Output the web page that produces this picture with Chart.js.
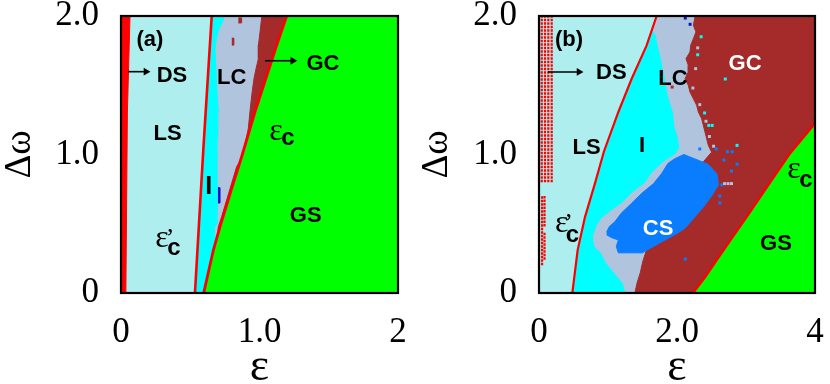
<!DOCTYPE html>
<html><head><meta charset="utf-8">
<script src="https://cdn.jsdelivr.net/npm/chart.js@4.4.1/dist/chart.umd.min.js"></script>
<style>
html,body{margin:0;padding:0;background:#fff;}
#wrap{position:relative;width:830px;height:384px;}
.pane{position:absolute;top:0;width:415px;height:384px;}
</style></head><body>
<div id="wrap">
<div class="pane" style="left:0"><canvas id="ca" width="415" height="384"></canvas></div>
<div class="pane" style="left:415px"><canvas id="cb" width="415" height="384"></canvas></div>
</div>
<script>
// ---------- tick values / labels ----------
const yTicks = [0, 1, 2];
const yTickLabels = ['0', '1.0', '2.0'];
const xTicksA = [0, 1, 2];
const xTickLabelsA = ['0', '1.0', '2'];
const xTicksB = [0, 2, 4];
const xTickLabelsB = ['0', '2.0', '4'];

// ---------- panel (a) region boundaries (epsilon, delta-omega) ----------
const aAll = [[0,0],[2,0],[2,2],[0,2]];
const aRedStrip = [[0,0],[0.035,0],[0.046,1.3],[0.065,2],[0,2]];
const aEpsPrime = [[0.534,0],[0.594,1.03],[0.655,2]];
const aEpsC = [[0.597,0],[0.667,0.31],[0.715,0.479],[0.81,0.79],[0.87,0.98],[0.967,1.307],[1.124,1.788],[1.196,2]];
const aLC = [[0.751,2],[0.751,1.98],[0.727,1.933],[0.71,1.896],[0.696,1.836],[0.686,1.764],[0.691,1.668],[0.696,1.547],[0.703,1.403],[0.71,1.307],[0.708,1.186],[0.70,1.066],[0.703,0.982],[0.703,0.503],[0.686,0.48],[0.686,0.359],[0.95,0.359],[1.5,2]];
const aGC = [[1.016,2],[1.016,1.993],[1.004,1.885],[0.992,1.788],[0.992,1.692],[0.975,1.62],[0.96,1.547],[0.944,1.427],[0.931,1.307],[0.919,1.186],[0.895,1.066],[0.879,0.982],[0.835,0.912],[0.799,0.792],[0.763,0.672],[0.727,0.551],[0.703,0.479],[0.70,0.45],[1.0,0.45],[1.6,2]];
const aGCspeck1 = [[0.847,1.95],[0.871,1.95],[0.871,1.986],[0.847,1.986]];
const aGCspeck2 = [[0.80,1.79],[0.815,1.79],[0.815,1.84],[0.80,1.84]];
const aBlueMark = [[0.70,0.65],[0.715,0.65],[0.715,0.76],[0.70,0.76]];
const aArrowDS = [[0.05,1.598],[0.18,1.598]];
const aArrowGC = [[1.04,1.677],[1.24,1.677]];

// ---------- panel (b) region boundaries ----------
const bAll = [[0,0],[4,0],[4,2],[0,2]];
const bEpsPrime = [[0.483,0],[0.56,0.31],[0.667,0.55],[0.81,0.79],[0.94,1.02],[1.15,1.307],[1.343,1.547],[1.56,1.788],[1.705,2]];
const bEpsC = [[2.23,0],[2.4,0.11],[2.575,0.238],[2.8,0.4],[3.01,0.55],[3.33,0.784],[3.64,1.01],[4,1.225]];
const bLC = [[1.705,2],[1.637,1.9],[1.70,1.86],[1.72,1.80],[1.76,1.72],[1.80,1.62],[1.83,1.55],[1.86,1.45],[1.90,1.38],[1.95,1.30],[1.97,1.20],[2.02,1.12],[2.04,1.05],[1.98,1.0],[1.88,0.97],[1.78,0.936],[1.633,0.864],[1.536,0.792],[1.343,0.72],[1.2,0.647],[1.03,0.587],[0.908,0.539],[0.836,0.48],[0.787,0.407],[0.81,0.335],[0.908,0.287],[0.98,0.215],[1.1,0.142],[1.22,0.07],[1.26,0],[4,0],[4,2]];
const bGC = [[2.24,2],[2.261,1.993],[2.237,1.933],[2.275,1.885],[2.237,1.836],[2.198,1.788],[2.188,1.74],[2.13,1.692],[2.164,1.644],[2.164,1.596],[2.116,1.547],[2.164,1.499],[2.188,1.451],[2.237,1.403],[2.285,1.355],[2.309,1.307],[2.357,1.259],[2.382,1.21],[2.406,1.162],[2.43,1.114],[2.454,1.066],[2.502,1.017],[2.3,0.9],[2.0,0.75],[1.7,0.5],[1.55,0.3],[1.50,0.22],[1.47,0.15],[1.42,0.07],[1.39,0],[4,0],[4,2]];
const bCS = [[0.98,0.44],[1.02,0.48],[1.1,0.515],[1.19,0.575],[1.34,0.647],[1.49,0.72],[1.66,0.79],[1.78,0.864],[1.87,0.936],[1.97,0.97],[2.1,1.0],[2.25,0.97],[2.45,0.93],[2.58,0.86],[2.6,0.78],[2.5,0.70],[2.38,0.62],[2.26,0.55],[2.12,0.47],[2.0,0.43],[1.78,0.37],[1.6,0.32],[1.5,0.29],[1.15,0.29],[1.12,0.335],[1.15,0.383],[1.05,0.40],[0.98,0.42]];
const bBlueSpecks = [[2.87,0.93],[2.79,0.88],[2.65,0.78],[2.62,0.65],[2.12,0.245],[2.33,1.04],[2.57,1.04],[2.73,1.02],[2.80,1.02],[2.68,0.96],[2.62,0.70]];
const bDarkBlueSpecks = [[2.12,1.985],[2.19,1.94]];
const bCyanSpecks = [[2.35,1.85],[2.70,1.545],[2.46,1.21],[2.51,1.21],[2.87,1.066],[2.30,1.72],[2.40,1.30]];
const bLCSpecks = [[2.69,0.79],[2.74,0.79],[2.79,0.79],[2.30,1.77],[2.27,1.62],[2.23,1.48],[2.33,1.36],[2.42,1.24],[2.47,1.13],[2.53,1.06]];
const bBrownSpecks = [[1.93,1.487]];
const bDotCol1 = [[0.04,0.8],[0.04,2]];
const bDotCol2 = [[0.087,0.8],[0.087,2]];
const bDotCol3 = [[0.135,0.8],[0.135,2]];
const bDotCol4 = [[0.184,0.8],[0.184,2]];
const bDotLow1 = [[0.045,0.2],[0.045,0.7]];
const bDotLow2 = [[0.08,0.48],[0.08,0.7]];
const bDotLow3 = [[0.08,0.24],[0.08,0.44]];
const bArrowDS = [[0.13,1.596],[0.58,1.596]];

// ---------- colours ----------
const C_LS = '#afeeee', C_I = '#00ffff', C_LC = '#b0c4de', C_GC = '#a52a2a',
      C_GS = '#00ff00', C_CS = '#0a7dff', C_RED = '#ff0000';

const P = a => a.map(([x, y]) => ({x, y}));
function poly(pts, color){
  return {data:P(pts), fill:'shape', backgroundColor:color, borderColor:color, borderWidth:1, pointRadius:0, tension:0};
}
function curve(pts, color, w){
  return {data:P(pts), fill:false, borderColor:color, borderWidth:w, pointRadius:0, tension:0};
}
function dotted(pts){
  return {data:P(pts), fill:false, borderColor:C_RED, borderWidth:2.2, borderDash:[2.5,1], pointRadius:0, tension:0};
}
function specks(pts, color){
  return {data:P(pts), showLine:false, pointStyle:'rect', pointRadius:2.1, pointBackgroundColor:color, pointBorderWidth:0, pointBorderColor:color};
}
function arrow(pts){
  return {data:P(pts), fill:false, borderColor:'#000', borderWidth:1.6, tension:0,
    pointRadius:[0,4.5], pointStyle:'triangle', pointRotation:90, pointBackgroundColor:'#000', pointBorderWidth:0};
}

const SANS = '"Liberation Sans", Arial, sans-serif';
const SERIF = '"Liberation Serif", "Times New Roman", serif';
const B22 = 'bold 22px ' + SANS;
const EPS = '32px ' + SERIF;
const SUBC = 'bold 24px ' + SANS;
const PRIME = '26px ' + SERIF;

const labelsA = [
  {t:'(a)', x:0.209, y:1.783, f:B22},
  {t:'DS', x:0.368, y:1.526, f:B22},
  {t:'LS', x:0.336, y:1.105, f:B22},
  {t:'LC', x:0.799, y:1.511, f:B22},
  {t:'GC', x:1.458, y:1.610, f:B22},
  {t:'GS', x:1.334, y:0.515, f:B22},
  {t:'I',  x:0.633, y:0.715, f:'bold 25px ' + SANS},
  {t:'ε', x:1.119, y:1.105, f:EPS},
  {t:'c', x:1.206, y:1.069, f:SUBC},
  {t:'ε', x:0.296, y:0.332, f:EPS},
  {t:'’', x:0.354, y:0.339, f:PRIME},
  {t:'c', x:0.383, y:0.274, f:SUBC}
];
const labelsB = [
  {t:'(b)', x:0.435, y:1.783, f:B22},
  {t:'DS', x:1.048, y:1.547, f:B22},
  {t:'LS', x:0.691, y:1.006, f:B22},
  {t:'I',  x:1.493, y:1.02, f:B22},
  {t:'LC', x:1.942, y:1.502, f:B22},
  {t:'GC', x:2.986, y:1.608, f:B22, c:'#fff'},
  {t:'GS', x:3.435, y:0.31, f:B22},
  {t:'CS', x:1.725, y:0.419, f:B22, c:'#fff'},
  {t:'ε', x:3.696, y:0.83, f:EPS},
  {t:'c', x:3.87, y:0.767, f:SUBC},
  {t:'ε', x:0.329, y:0.443, f:EPS},
  {t:'’', x:0.43, y:0.45, f:PRIME},
  {t:'c', x:0.486, y:0.37, f:SUBC}
];

function textPlugin(items){
  return {id:'txt', afterDatasetsDraw(chart){
    const ctx = chart.ctx, xs = chart.scales.x, ys = chart.scales.y;
    ctx.save(); ctx.textAlign = 'center'; ctx.textBaseline = 'alphabetic';
    for (const it of items){
      ctx.font = it.f; ctx.fillStyle = it.c || '#000';
      ctx.fillText(it.t, xs.getPixelForValue(it.x), ys.getPixelForValue(it.y));
    }
    ctx.restore();
  }};
}
const framePlugin = {id:'frame', afterDraw(chart){
  const {ctx, chartArea:a} = chart;
  ctx.save(); ctx.strokeStyle = '#000'; ctx.lineWidth = 2.2;
  ctx.strokeRect(a.left, a.top, a.right - a.left, a.bottom - a.top);
  ctx.restore();
}};

function makeChart(id, layers, xmax, xt, xl, yAxisW, rightPad, yTitlePad, labels){
  const n = layers.length;
  layers.forEach((d, i) => { d.order = n - i; });
  const zeroPad = s => { s.paddingLeft = s.paddingRight = s.paddingTop = s.paddingBottom = 0; };
  return new Chart(document.getElementById(id), {
    type:'line',
    data:{datasets:layers},
    options:{
      responsive:false, animation:false, devicePixelRatio:1,
      layout:{padding:{left:0, right:rightPad, top:16, bottom:0}},
      plugins:{legend:{display:false}, tooltip:{enabled:false}},
      scales:{
        x:{type:'linear', min:0, max:xmax,
          grid:{display:false, drawTicks:false}, border:{display:false},
          afterBuildTicks: s => { s.ticks = xt.map(v => ({value:v})); },
          ticks:{padding:19, color:'#000', maxRotation:0, autoSkip:false,
            font:{family:SERIF, size:35},
            callback:(v, i) => xl[i]},
          title:{display:true, text:'ε', color:'#000', padding:{top:0, bottom:-5},
            font:{family:SERIF, size:46, lineHeight:0.9}},
          afterFit: s => { s.height = 91; zeroPad(s); }},
        y:{type:'linear', min:0, max:2,
          grid:{display:false, drawTicks:false}, border:{display:false},
          afterBuildTicks: s => { s.ticks = yTicks.map(v => ({value:v})); },
          ticks:{padding:22, color:'#000',
            font:{family:SERIF, size:35},
            callback:(v, i) => yTickLabels[i]},
          title:{display:true, text:'Δω', color:'#000', padding:{top:yTitlePad, bottom:0},
            font:{family:SERIF, size:37, lineHeight:1.1}},
          afterFit: s => { s.width = yAxisW; zeroPad(s); }}
      }
    },
    plugins:[textPlugin(labels), framePlugin]
  });
}

// bottom-to-top layer order
makeChart('ca', [
  poly(aAll, C_LS),
  poly(aRedStrip, C_RED),
  poly(aEpsPrime.concat([[2,2],[2,0]]), C_I),
  poly(aLC, C_LC),
  poly(aGC, C_GC),
  poly(aGCspeck1, C_GC),
  poly(aGCspeck2, C_GC),
  poly(aBlueMark, '#1010d0'),
  poly(aEpsC.concat([[2,2],[2,0]]), C_GS),
  curve(aEpsPrime, C_RED, 2.6),
  curve(aEpsC, C_RED, 2.8),
  arrow(aArrowDS),
  arrow(aArrowGC)
], 2, xTicksA, xTickLabelsA, 121, 17, 0, labelsA);

makeChart('cb', [
  poly(bAll, C_LS),
  poly(bEpsPrime.concat([[4,2],[4,0]]), C_I),
  poly(bLC, C_LC),
  poly(bGC, C_GC),
  poly(bCS, C_CS),
  specks(bBlueSpecks, C_CS),
  specks(bDarkBlueSpecks, '#1010c8'),
  specks(bCyanSpecks, C_I),
  specks(bLCSpecks, C_LC),
  specks(bBrownSpecks, C_GC),
  poly(bEpsC.concat([[4,0]]), C_GS),
  curve(bEpsPrime, C_RED, 2.2),
  curve(bEpsC, C_RED, 2.4),
  dotted(bDotCol1), dotted(bDotCol2), dotted(bDotCol3), dotted(bDotCol4),
  dotted(bDotLow1), dotted(bDotLow2), dotted(bDotLow3),
  arrow(bArrowDS)
], 4, xTicksB, xTickLabelsB, 124, 15, 2, labelsB);
</script>
</body></html>
